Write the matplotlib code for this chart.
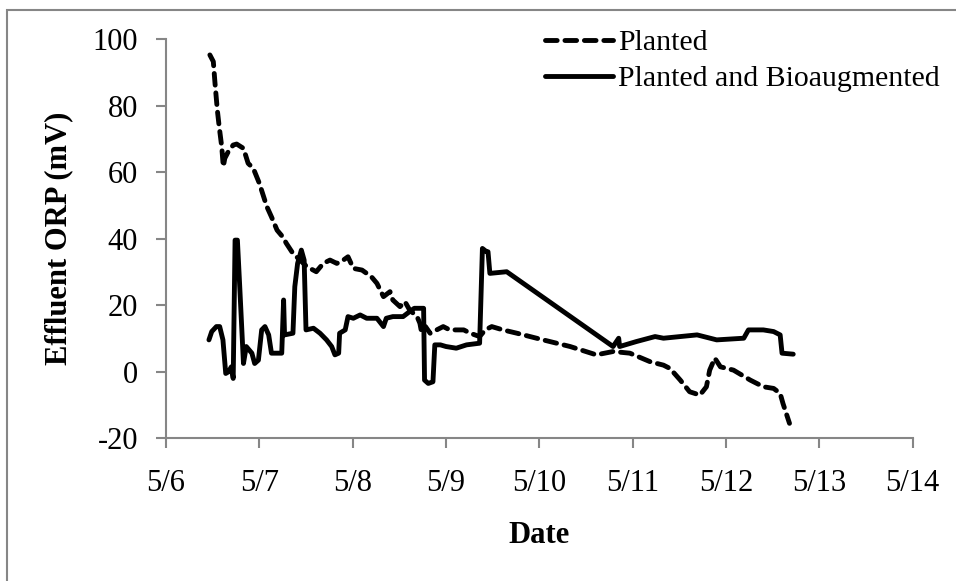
import matplotlib
matplotlib.use('Agg')
import matplotlib.pyplot as plt
from matplotlib.patches import Rectangle

# time in days of May, ORP in mV
planted_t = [6.47, 6.507, 6.525, 6.55, 6.57, 6.597, 6.614, 6.63, 6.667, 6.72, 6.757,
             6.83, 6.88, 6.935, 7.0, 7.08, 7.13, 7.19, 7.25, 7.29, 7.36, 7.436, 7.51,
             7.61, 7.685, 7.757, 7.83, 7.9, 7.95, 8.007, 8.1, 8.15, 8.2, 8.26, 8.33,
             8.4, 8.43, 8.507, 8.56, 8.61, 8.69, 8.72, 8.74, 8.78, 8.83, 8.9, 8.97,
             9.04, 9.11, 9.19, 9.26, 9.36, 9.42, 9.49, 9.61, 9.76, 10.04, 10.33, 10.61,
             10.79, 10.97, 11.19, 11.33, 11.4, 11.51, 11.61, 11.72, 11.79, 11.825,
             11.88, 11.94, 12.08, 12.26, 12.4, 12.51, 12.58, 12.61, 12.68]
planted_v = [95.3, 93.3, 86.8, 78.7, 73.7, 67.7, 61.7, 64.2, 66.2, 68.2, 68.5,
             67.2, 62.7, 61.2, 56.7, 49.7, 46.6, 42.6, 40.6, 38.6, 35.6, 33.6, 31.6,
             30.1, 32.6, 33.6, 32.6, 33.6, 34.6, 31.1, 30.6, 29.6, 28.6, 26.6, 22.6,
             24.1, 21.6, 19.6, 21.1, 18.6, 16.6, 14.6, 11.6, 13.6, 11.6, 12.6, 13.6,
             12.6, 12.6, 12.6, 11.6, 10.6, 12.6, 13.6, 12.6, 11.6, 9.6, 7.6, 5.1,
             6.1, 5.6, 3.0, 2.0, 1.0, -2.5, -6.0, -7.0, -4.5, 0.5,
             4.1, 1.5, 0.5, -2.5, -4.5, -5.0, -6.5, -9.5, -15.5]

bio_t = [6.46, 6.49, 6.54, 6.575, 6.61, 6.64, 6.67, 6.7, 6.72, 6.74, 6.765, 6.79,
         6.83, 6.86, 6.92, 6.95, 6.99, 7.025, 7.06, 7.1, 7.13, 7.24, 7.26, 7.27,
         7.36, 7.38, 7.41, 7.45, 7.48, 7.5, 7.58, 7.65, 7.72, 7.775, 7.81, 7.85,
         7.86, 7.92, 7.95, 8.007, 8.08, 8.15, 8.26, 8.33, 8.36, 8.43, 8.54, 8.61,
         8.66, 8.76, 8.77, 8.81, 8.86, 8.88, 8.94, 9.0, 9.11, 9.22, 9.36, 9.39,
         9.435, 9.45, 9.47, 9.65, 10.79, 10.85, 10.86, 11.04, 11.24, 11.33, 11.51,
         11.69, 11.9, 12.19, 12.24, 12.4, 12.51, 12.58, 12.6, 12.72]
bio_v = [9.6, 12.1, 13.6, 13.6, 9.6, -0.5, 0.0, 1.5, -2.0, 39.6, 39.6, 25.6,
         2.5, 7.6, 5.6, 2.5, 3.5, 12.6, 13.6, 11.1, 5.6, 5.6, 21.6, 11.1,
         11.6, 25.6, 32.6, 36.6, 33.6, 12.6, 13.1, 11.6, 9.6, 7.6, 5.1, 5.6,
         11.6, 12.6, 16.6, 16.1, 17.1, 16.1, 16.1, 13.6, 16.1, 16.6, 16.6, 18.1,
         19.1, 19.1, -2.5, -3.5, -3.0, 8.1, 8.1, 7.6, 7.1, 8.1, 8.6, 37.1,
         36.1, 36.1, 29.6, 30.1, 7.6, 10.1, 7.6, 9.1, 10.6, 10.1, 10.6,
         11.1, 9.6, 10.1, 12.6, 12.6, 12.1, 11.1, 5.6, 5.3]

x_ticks = [6, 7, 8, 9, 10, 11, 12, 13, 14]
x_labels = ['5/6', '5/7', '5/8', '5/9', '5/10', '5/11', '5/12', '5/13', '5/14']
y_ticks = [-20, 0, 20, 40, 60, 80, 100]

plt.rcParams['font.family'] = ['Liberation Serif', 'DejaVu Serif']
plt.rcParams['font.size'] = 22
plt.rcParams['axes.unicode_minus'] = False

fig = plt.figure(figsize=(9.56, 5.81), dpi=100)
ax = fig.add_axes([166 / 956, 1 - 438.3 / 581, (912.7 - 166) / 956, (438.3 - 39.3) / 581])

# grey frame round the chart area
fig.patches.append(Rectangle((7 / 956, -0.1), 1.1, 1 - 10 / 581 + 0.1,
                             transform=fig.transFigure, fill=False,
                             edgecolor='#868686', linewidth=1.5))

ax.plot(planted_t, planted_v, color='black', lw=3.5, dashes=(2.4, 1.6),
        dash_capstyle='round', solid_joinstyle='round', label='Planted')
ax.plot(bio_t, bio_v, color='black', lw=3.5, solid_joinstyle='round',
        solid_capstyle='round', label='Planted and Bioaugmented')

ax.set_xlim(6, 14)
ax.set_ylim(-20, 100)
ax.set_xticks(x_ticks)
ax.set_xticklabels(x_labels)
ax.set_yticks(y_ticks)

for s in ['top', 'right']:
    ax.spines[s].set_visible(False)
for s in ['left', 'bottom']:
    ax.spines[s].set_color('#868686')
    ax.spines[s].set_linewidth(1.5)
ax.tick_params(axis='both', direction='out', length=7, width=1.5, color='#868686',
               labelsize=22)
ax.tick_params(axis='x', pad=15)
ax.tick_params(axis='y', pad=13)

ax.set_xlabel('Date', fontweight='bold', fontsize=22, labelpad=17)
ax.set_ylabel('Effluent ORP (mV)', fontweight='bold', fontsize=22, labelpad=14)

ax.legend(loc='upper left', bbox_to_anchor=(0.491, 1.055), frameon=False,
          fontsize=21.5, handlelength=2.3, handletextpad=0.15, labelspacing=0.3,
          borderaxespad=0)

plt.savefig('out.png', dpi=100)
